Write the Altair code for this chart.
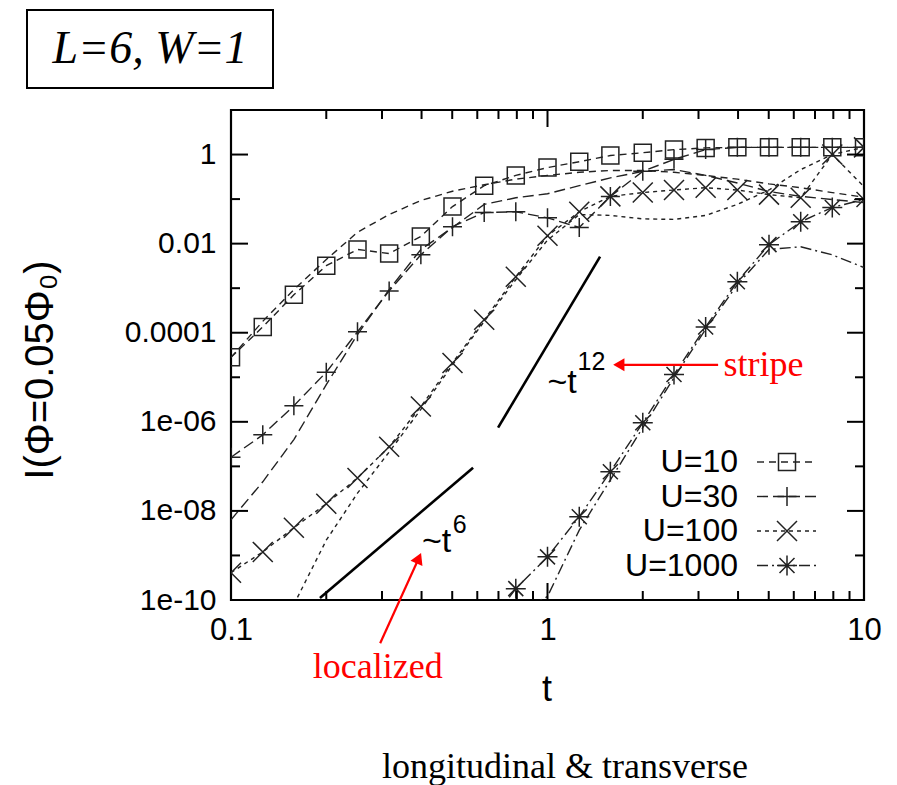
import altair as alt
import pandas as pd

# ---------------------------------------------------------------------------
# data
# ---------------------------------------------------------------------------
# times at which the marked curves are sampled (10 per decade)
t_marks = [0.1, 0.126, 0.158, 0.2, 0.251, 0.316, 0.398, 0.501, 0.631, 0.794,
           1.0, 1.26, 1.58, 2.0, 2.51, 3.16, 3.98, 5.01, 6.31, 7.94, 10.0]

# U=10
u10_marked = [2.8e-5, 1.35e-4, 7.1e-4, 3.2e-3, 7.4e-3, 6.0e-3, 1.45e-2, 6.8e-2, 0.20, 0.34,
              0.51, 0.69, 0.95, 1.10, 1.29, 1.41, 1.45, 1.45, 1.45, 1.45, 1.45]
u10_plain = [2.8e-5, 1.8e-4, 9.3e-4, 4.4e-3, 1.8e-2, 4.5e-2, 9.3e-2, 0.15, 0.21, 0.28,
             0.34, 0.40, 0.44, 0.44, 0.40, 0.34, 0.28, 0.22, 0.18, 0.14, 0.11]
# U=30
u30_marked = [1.6e-7, 5.1e-7, 2.3e-6, 1.3e-5, 1.05e-4, 8.7e-4, 5.6e-3, 2.4e-2, 5.0e-2, 5.2e-2,
              3.8e-2, 2.3e-2, 0.115, 0.42, 0.78, 1.29, 1.45, 1.45, 1.45, 1.45, 1.45]
u30_plain = [6.3e-9, 4.5e-8, 4.0e-7, 6.8e-6, 9.1e-5, 9.3e-4, 7.4e-3, 2.3e-2, 7.6e-2, 0.107,
             0.132, 0.20, 0.30, 0.42, 0.46, 0.34, 0.23, 0.148, 0.115, 0.098, 0.083]
# U=100
u100_marked = [4.1e-10, 1.2e-9, 4.2e-9, 1.45e-8, 5.5e-8, 2.75e-7, 2.2e-6, 2.1e-5, 1.95e-4, 1.8e-3,
               1.5e-2, 5.2e-2, 0.115, 0.14, 0.16, 0.18, 0.16, 0.126, 0.107, 1.0, 1.45]
u100_plain_t = t_marks[2:]
u100_plain = [7.9e-11, 2.2e-9, 2.5e-8, 2.1e-7, 1.9e-6, 1.9e-5, 1.8e-4, 1.55e-3,
              1.2e-2, 4.5e-2, 4.3e-2, 3.6e-2, 3.5e-2, 4.3e-2, 7.6e-2, 0.16, 0.46, 1.0, 0.19]
# U=1000
u1000_t = t_marks[8:]
u1000_marked = [2.0e-11, 1.8e-10, 9.3e-10, 7.4e-9, 7.6e-8, 9.5e-7, 1.15e-5, 1.35e-4, 1.4e-3,
                9.5e-3, 3.1e-2, 6.5e-2, 9.8e-2]
u1000_plain = [1.0e-11, 5.0e-11, 1.2e-10, 3.7e-9, 5.0e-8, 7.4e-7, 9.8e-6, 1.2e-4, 1.2e-3,
               7.4e-3, 8.5e-3, 5.6e-3, 2.9e-3]

legend_labels = ["U=10", "U=30", "U=100", "U=1000"]

# power-law guide segments (end points)
guide6_t = [0.191, 0.582]
guide6_I = [1.11e-10, 9.3e-8]
guide12_t = [0.698, 1.466]
guide12_I = [7.4e-7, 5.1e-3]

# axis ticks
x_label_values = [0.1, 1, 10]
x_minor = [0.2, 0.3, 0.4, 0.5, 0.6, 0.7, 0.8, 0.9, 2, 3, 4, 5, 6, 7, 8, 9]
y_label_values = [1, 1e-2, 1e-4, 1e-6, 1e-8, 1e-10]
y_label_text = ["1", "0.01", "0.0001", "1e-06", "1e-08", "1e-10"]
y_label_exp = [0, -2, -4, -6, -8, -10]
y_minor = [10, 1e-1, 1e-3, 1e-5, 1e-7, 1e-9]

# ---------------------------------------------------------------------------
# styling
# ---------------------------------------------------------------------------
W, H = 633, 490
INK = "#222222"
SANS = "Liberation Sans"
SERIF = "Liberation Serif"

dash_u10 = [7, 5]
dash_u30 = [11, 5]
dash_u100 = [4, 4]
dash_u1000 = [11, 4, 2, 4]

shape_plus = "M-1,0L1,0M0,-1L0,1"
shape_x = "M-1,-1L1,1M-1,1L1,-1"
shape_star = "M-1,0L1,0M0,-1L0,1M-0.75,-0.75L0.75,0.75M-0.75,0.75L0.75,-0.75"

xs = alt.Scale(type="log", domain=[0.1, 10], nice=False)
ys = alt.Scale(type="log", domain=[1e-10, 10], nice=False)

y_expr = ""
for e, lab in zip(y_label_exp, y_label_text):
    y_expr += f"round(log(datum.value)/LN10) == {e} ? '{lab}' : "
y_expr += "''"

x_axis = alt.Axis(values=x_label_values, labelExpr="format(datum.value, '~g')",
                  ticks=False, tickSize=0, domain=False, grid=False, title=None,
                  labelFont=SANS, labelFontSize=31, labelColor="black",
                  labelPadding=15, labelFlush=False, labelOverlap=False)
y_axis = alt.Axis(values=y_label_values, labelExpr=y_expr,
                  ticks=False, tickSize=0, domain=False, grid=False, title=None,
                  labelFont=SANS, labelFontSize=30, labelColor="black",
                  labelPadding=15, labelFlush=False, labelOverlap=False)


def X(field="t"):
    return alt.X(f"{field}:Q", scale=xs, axis=x_axis)


def Y(field="I"):
    return alt.Y(f"{field}:Q", scale=ys, axis=y_axis)


def frame(t, v):
    return pd.DataFrame({"t": t, "I": v})


def curve(t, v, dash, width=1.4):
    return alt.Chart(frame(t, v)).mark_line(
        clip=True, color=INK, strokeWidth=width, strokeDash=dash
    ).encode(x=X(), y=Y())


def markers(t, v, shape, size, width=1.5):
    return alt.Chart(frame(t, v)).mark_point(
        clip=True, shape=shape, size=size, filled=False, color=INK,
        strokeWidth=width, opacity=1
    ).encode(x=X(), y=Y())


layers = []

# companion curves without symbols
layers.append(curve(t_marks, u10_plain, dash_u10))
layers.append(curve(t_marks, u30_plain, dash_u30))
layers.append(curve(u100_plain_t, u100_plain, dash_u100))
layers.append(curve(u1000_t, u1000_plain, dash_u1000))

# curves with symbols
layers.append(curve(t_marks, u10_marked, dash_u10))
layers.append(curve(t_marks, u30_marked, dash_u30))
layers.append(curve(t_marks, u100_marked, dash_u100))
layers.append(curve(u1000_t, u1000_marked, dash_u1000))
layers.append(markers(t_marks, u10_marked, "square", 289))
layers.append(markers(t_marks, u30_marked, shape_plus, 361))
layers.append(markers(t_marks, u100_marked, shape_x, 400))
layers.append(markers(u1000_t, u1000_marked, shape_star, 400))

# power-law guides
layers.append(alt.Chart(frame(guide6_t, guide6_I)).mark_line(color="black", strokeWidth=2.6)
              .encode(x=X(), y=Y()))
layers.append(alt.Chart(frame(guide12_t, guide12_I)).mark_line(color="black", strokeWidth=2.6)
              .encode(x=X(), y=Y()))

# guide labels (~t^6, ~t^12) placed in data coordinates
def label(t, v, text, size, color="black", font=SANS, align="left", baseline="alphabetic"):
    return alt.Chart(pd.DataFrame({"t": [t], "I": [v], "s": [text]})).mark_text(
        font=font, fontSize=size, color=color, align=align, baseline=baseline
    ).encode(x=X(), y=Y(), text="s:N")


layers.append(label(0.401, 1.2e-9, "~t", 34))
layers.append(label(0.502, 3.2e-9, "6", 25))
layers.append(label(1.0, 4.5e-6, "~t", 34))
layers.append(label(1.245, 1.45e-5, "12", 25))

# red annotations
RED = "#ff0000"
layers.append(alt.Chart(frame([3.46, 1.70], [1.9e-5, 1.9e-5])).mark_line(
    color=RED, strokeWidth=2.2, clip=False).encode(x=X(), y=Y()))
layers.append(alt.Chart(frame([1.68], [1.9e-5])).mark_point(
    shape="triangle-up", angle=270, size=170, filled=True, color=RED, opacity=1, clip=False
).encode(x=X(), y=Y()))
layers.append(label(3.6, 1.9e-5, "stripe", 36, color=RED, font=SERIF, baseline="middle"))

layers.append(alt.Chart(frame([0.296, 0.392], [1.07e-11, 8.65e-10])).mark_line(
    color=RED, strokeWidth=2.2, clip=False).encode(x=X(), y=Y()))
layers.append(alt.Chart(frame([0.392], [8.65e-10])).mark_point(
    shape="triangle-up", angle=24, size=170, filled=True, color=RED, opacity=1, clip=False
).encode(x=X(), y=Y()))
layers.append(label(0.291, 3.2e-12, "localized", 36, color=RED, font=SERIF,
                    align="center", baseline="middle"))

# ticks drawn inside the frame on all four sides
def xticks(vals, length):
    d = pd.DataFrame({"t": vals})
    bottom = alt.Chart(d).mark_rule(color="black", strokeWidth=2).encode(
        x=X(), y=alt.value(H), y2=alt.value(H - length))
    top = alt.Chart(d).mark_rule(color="black", strokeWidth=2).encode(
        x=X(), y=alt.value(0), y2=alt.value(length))
    return [bottom, top]


def yticks(vals, length):
    d = pd.DataFrame({"I": vals})
    left = alt.Chart(d).mark_rule(color="black", strokeWidth=2).encode(
        y=Y(), x=alt.value(0), x2=alt.value(length))
    right = alt.Chart(d).mark_rule(color="black", strokeWidth=2).encode(
        y=Y(), x=alt.value(W - length), x2=alt.value(W))
    return [left, right]


layers += xticks(x_label_values, 17) + xticks(x_minor, 9)
layers += yticks(y_label_values, 17) + yticks(y_minor, 9)

# key in the lower right corner of the plot
one = pd.DataFrame({"k": [0]})
key_rows = [
    (legend_labels[0], dash_u10, "square", 289),
    (legend_labels[1], dash_u30, shape_plus, 361),
    (legend_labels[2], dash_u100, shape_x, 400),
    (legend_labels[3], dash_u1000, shape_star, 400),
]
for i, (lab, dash, shp, sz) in enumerate(key_rows):
    yy = 352 + i * 34.5
    layers.append(alt.Chart(one).mark_text(
        text=lab, font=SANS, fontSize=32, align="right", baseline="middle", color="black"
    ).encode(x=alt.value(507), y=alt.value(yy)))
    layers.append(alt.Chart(one).mark_rule(color=INK, strokeWidth=1.4, strokeDash=dash).encode(
        x=alt.value(526), x2=alt.value(585), y=alt.value(yy)))
    layers.append(alt.Chart(one).mark_point(
        shape=shp, size=sz, filled=False, color=INK, strokeWidth=1.5, opacity=1
    ).encode(x=alt.value(556), y=alt.value(yy)))

# axis titles
layers.append(alt.Chart(one).mark_text(
    text="t", font=SANS, fontSize=36, align="center", baseline="middle", color="black"
).encode(x=alt.value(316), y=alt.value(580)))
layers.append(alt.Chart(one).mark_text(
    text="I(Φ=0.05Φ₀)", font=SANS, fontSize=40, angle=270, align="center",
    baseline="middle", color="black"
).encode(x=alt.value(-190), y=alt.value(260)))

# boxed system label above the plot
layers.append(alt.Chart(one).mark_rect(
    fillOpacity=0, stroke="black", strokeWidth=2
).encode(x=alt.value(-204), x2=alt.value(42), y=alt.value(-100), y2=alt.value(-22)))
layers.append(alt.Chart(one).mark_text(
    text="L=6, W=1", font=SERIF, fontSize=46, fontStyle="italic", align="center",
    baseline="middle", color="black"
).encode(x=alt.value(-81), y=alt.value(-61)))

# caption
layers.append(alt.Chart(one).mark_text(
    text="longitudinal & transverse", font=SERIF, fontSize=36, align="center",
    baseline="middle", color="black"
).encode(x=alt.value(334), y=alt.value(657)))

chart = alt.layer(*layers).properties(
    width=W, height=H,
    autosize=alt.AutoSizeParams(type="none"),
    padding={"left": 231, "top": 110, "right": 33, "bottom": 185},
    background="white",
).configure_view(stroke="black", strokeWidth=2.2)

chart.save("out.html", embed_options={"renderer": "svg", "actions": False})
